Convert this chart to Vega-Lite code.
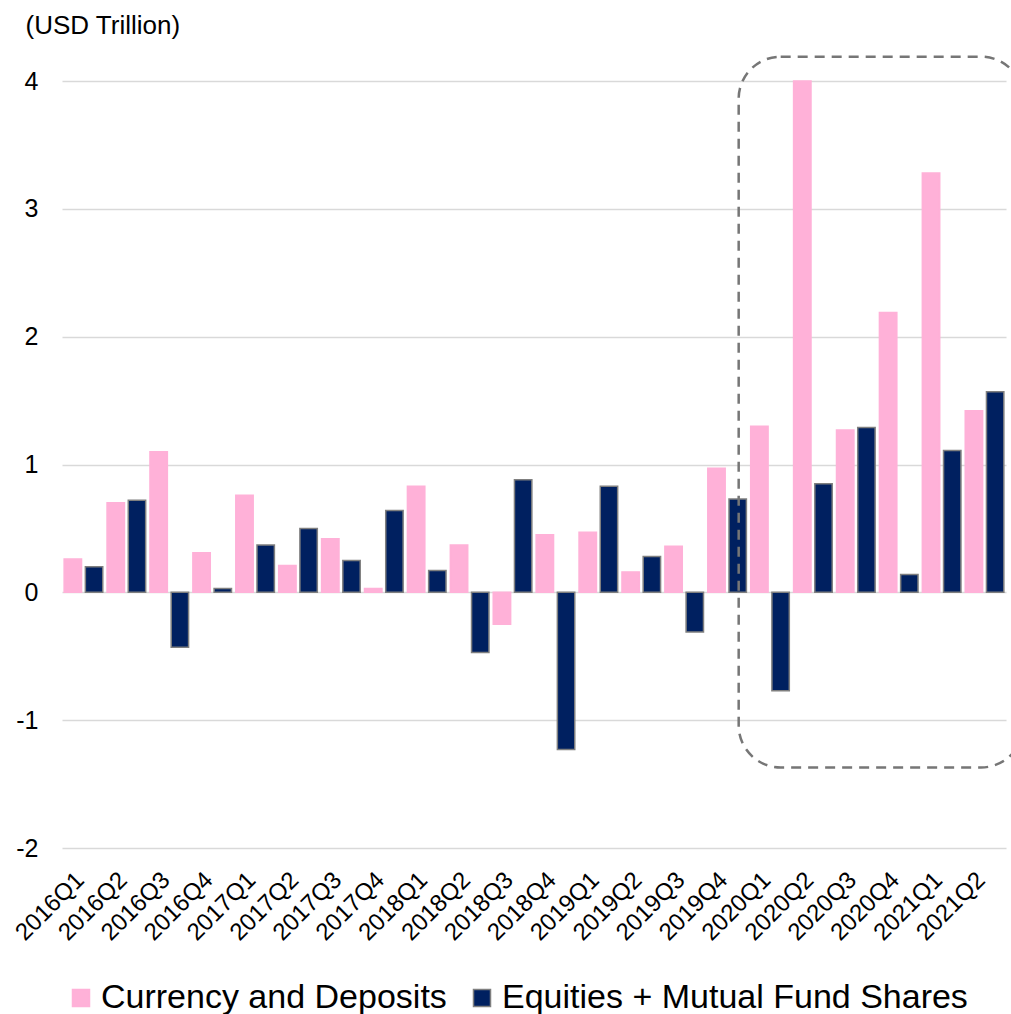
{
  "$schema": "https://vega.github.io/schema/vega-lite/v6.json",
  "width": 944,
  "height": 767,
  "autosize": {"type": "none"},
  "padding": {"left": 62, "top": 81, "right": 5, "bottom": 166},
  "background": "white",
  "config": {
    "font": "Liberation Sans",
    "view": {"stroke": null}
  },
  "datasets": {
    "flows": [
      {"quarter": "2016Q1", "series": "Currency and Deposits", "value": 0.26},
      {"quarter": "2016Q1", "series": "Equities + Mutual Fund Shares", "value": 0.20},
      {"quarter": "2016Q2", "series": "Currency and Deposits", "value": 0.70},
      {"quarter": "2016Q2", "series": "Equities + Mutual Fund Shares", "value": 0.72},
      {"quarter": "2016Q3", "series": "Currency and Deposits", "value": 1.10},
      {"quarter": "2016Q3", "series": "Equities + Mutual Fund Shares", "value": -0.43},
      {"quarter": "2016Q4", "series": "Currency and Deposits", "value": 0.31},
      {"quarter": "2016Q4", "series": "Equities + Mutual Fund Shares", "value": 0.03},
      {"quarter": "2017Q1", "series": "Currency and Deposits", "value": 0.76},
      {"quarter": "2017Q1", "series": "Equities + Mutual Fund Shares", "value": 0.37},
      {"quarter": "2017Q2", "series": "Currency and Deposits", "value": 0.21},
      {"quarter": "2017Q2", "series": "Equities + Mutual Fund Shares", "value": 0.50},
      {"quarter": "2017Q3", "series": "Currency and Deposits", "value": 0.42},
      {"quarter": "2017Q3", "series": "Equities + Mutual Fund Shares", "value": 0.25},
      {"quarter": "2017Q4", "series": "Currency and Deposits", "value": 0.03},
      {"quarter": "2017Q4", "series": "Equities + Mutual Fund Shares", "value": 0.64},
      {"quarter": "2018Q1", "series": "Currency and Deposits", "value": 0.83},
      {"quarter": "2018Q1", "series": "Equities + Mutual Fund Shares", "value": 0.17},
      {"quarter": "2018Q2", "series": "Currency and Deposits", "value": 0.37},
      {"quarter": "2018Q2", "series": "Equities + Mutual Fund Shares", "value": -0.47},
      {"quarter": "2018Q3", "series": "Currency and Deposits", "value": -0.25},
      {"quarter": "2018Q3", "series": "Equities + Mutual Fund Shares", "value": 0.88},
      {"quarter": "2018Q4", "series": "Currency and Deposits", "value": 0.45},
      {"quarter": "2018Q4", "series": "Equities + Mutual Fund Shares", "value": -1.23},
      {"quarter": "2019Q1", "series": "Currency and Deposits", "value": 0.47},
      {"quarter": "2019Q1", "series": "Equities + Mutual Fund Shares", "value": 0.83},
      {"quarter": "2019Q2", "series": "Currency and Deposits", "value": 0.16},
      {"quarter": "2019Q2", "series": "Equities + Mutual Fund Shares", "value": 0.28},
      {"quarter": "2019Q3", "series": "Currency and Deposits", "value": 0.36},
      {"quarter": "2019Q3", "series": "Equities + Mutual Fund Shares", "value": -0.31},
      {"quarter": "2019Q4", "series": "Currency and Deposits", "value": 0.97},
      {"quarter": "2019Q4", "series": "Equities + Mutual Fund Shares", "value": 0.73},
      {"quarter": "2020Q1", "series": "Currency and Deposits", "value": 1.30},
      {"quarter": "2020Q1", "series": "Equities + Mutual Fund Shares", "value": -0.77},
      {"quarter": "2020Q2", "series": "Currency and Deposits", "value": 4.00},
      {"quarter": "2020Q2", "series": "Equities + Mutual Fund Shares", "value": 0.85},
      {"quarter": "2020Q3", "series": "Currency and Deposits", "value": 1.27},
      {"quarter": "2020Q3", "series": "Equities + Mutual Fund Shares", "value": 1.29},
      {"quarter": "2020Q4", "series": "Currency and Deposits", "value": 2.19},
      {"quarter": "2020Q4", "series": "Equities + Mutual Fund Shares", "value": 0.14},
      {"quarter": "2021Q1", "series": "Currency and Deposits", "value": 3.28},
      {"quarter": "2021Q1", "series": "Equities + Mutual Fund Shares", "value": 1.11},
      {"quarter": "2021Q2", "series": "Currency and Deposits", "value": 1.42},
      {"quarter": "2021Q2", "series": "Equities + Mutual Fund Shares", "value": 1.57}
    ],
    "highlight": [
      {"from": "2019Q4", "to": "2021Q2", "top": 4.19, "bottom": -1.37}
    ]
  },
  "layer": [
    {
      "data": {"name": "flows"},
      "mark": {"type": "bar", "strokeWidth": 1.5},
      "encoding": {
        "x": {
          "field": "quarter",
          "type": "nominal",
          "sort": null,
          "scale": {"paddingInner": 0.1, "paddingOuter": 0.05},
          "axis": {
            "title": null,
            "labelAngle": -45,
            "labelAlign": "right",
            "labelBaseline": "middle",
            "labelFontSize": 24,
            "labelColor": "black",
            "labelPadding": 28,
            "labelOffset": -3,
            "domain": false,
            "ticks": false,
            "tickSize": 0,
            "grid": false
          }
        },
        "xOffset": {"field": "series", "type": "nominal", "scale": {"paddingInner": 0.18}},
        "y": {
          "field": "value",
          "type": "quantitative",
          "scale": {"domain": [-2, 4], "nice": false},
          "axis": {
            "title": "(USD Trillion)",
            "titleAngle": 0,
            "titleX": -37,
            "titleY": -48,
            "titleAlign": "left",
            "titleBaseline": "alphabetic",
            "titleFontSize": 26,
            "titleFontWeight": "normal",
            "titleColor": "black",
            "values": [-2, -1, 0, 1, 2, 3, 4],
            "labelExpr": "'' + datum.value",
            "labelFontSize": 25,
            "labelColor": "black",
            "labelPadding": 24,
            "domain": false,
            "ticks": false,
            "tickSize": 0,
            "gridColor": "#D9D9D9",
            "gridWidth": 1.5
          }
        },
        "color": {
          "field": "series",
          "type": "nominal",
          "scale": {"range": ["#FFB1D8", "#002060"]},
          "legend": {
            "title": null,
            "orient": "none",
            "direction": "horizontal",
            "legendX": 2,
            "legendY": 900,
            "symbolType": "square",
            "symbolSize": 289,
            "symbolStrokeWidth": 1.5,
            "labelFontSize": 34,
            "labelColor": "black",
            "labelOffset": 3,
            "columnPadding": 18,
            "labelLimit": 600
          }
        },
        "stroke": {
          "field": "series",
          "type": "nominal",
          "scale": {"range": ["#FFB1D8", "#7F7F7F"]},
          "legend": {
            "title": null,
            "orient": "none",
            "direction": "horizontal",
            "legendX": 2,
            "legendY": 900,
            "symbolType": "square",
            "symbolSize": 289,
            "symbolStrokeWidth": 1.5,
            "labelFontSize": 34,
            "labelColor": "black",
            "labelOffset": 3,
            "columnPadding": 18,
            "labelLimit": 600
          }
        }
      }
    },
    {
      "mark": {"type": "rule", "color": "#D9D9D9", "strokeWidth": 2.5},
      "encoding": {"y": {"datum": 0}}
    },
    {
      "data": {"name": "highlight"},
      "mark": {
        "type": "rect",
        "filled": false,
        "fill": null,
        "stroke": "#767676",
        "strokeWidth": 2.5,
        "strokeDash": [10, 7],
        "cornerRadius": 42
      },
      "encoding": {
        "x": {"field": "from", "type": "nominal", "bandPosition": 0.8},
        "x2": {"field": "to", "bandPosition": 1.5},
        "y": {"field": "top", "type": "quantitative"},
        "y2": {"field": "bottom"}
      }
    }
  ]
}
